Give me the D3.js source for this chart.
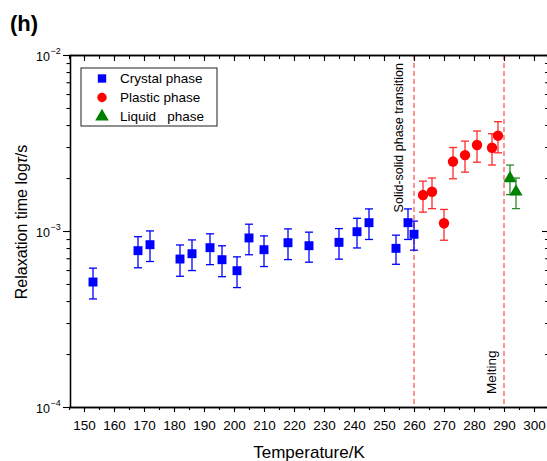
<!DOCTYPE html>
<html>
<head>
<meta charset="utf-8">
<script src="https://cdn.jsdelivr.net/npm/d3@7/dist/d3.min.js"></script>
<style>
  html, body { margin: 0; padding: 0; background: #fff; }
  svg { display: block; font-family: "Liberation Sans", Arial, Helvetica, sans-serif; }
</style>
</head>
<body>
<svg id="chart" width="547" height="461"></svg>
<script>
// Relaxation time vs temperature for the three phases
const crystalT   = [153, 168, 172, 182, 186, 192, 196, 201, 205, 210, 218, 225, 235, 241, 245, 254, 258, 260];
const crystalTau = [5.13e-4, 7.73e-4, 8.36e-4, 6.93e-4, 7.43e-4, 8.04e-4, 6.87e-4, 5.95e-4, 9.13e-4, 7.83e-4,
                    8.58e-4, 8.25e-4, 8.62e-4, 9.91e-4, 1.115e-3, 7.97e-4, 1.115e-3, 9.58e-4];
const crystalErr = [1.02e-4, 1.55e-4, 1.65e-4, 1.4e-4, 1.47e-4, 1.6e-4, 1.37e-4, 1.18e-4, 1.8e-4, 1.55e-4,
                    1.7e-4, 1.6e-4, 1.7e-4, 1.9e-4, 2.2e-4, 1.5e-4, 2.2e-4, 1.8e-4];

const plasticT   = [263, 266, 270, 273, 277, 281, 286, 288];
const plasticTau = [1.60e-3, 1.67e-3, 1.106e-3, 2.48e-3, 2.70e-3, 3.08e-3, 2.97e-3, 3.48e-3];
const plasticErr = [0.32e-3, 0.33e-3, 0.22e-3, 0.50e-3, 0.54e-3, 0.62e-3, 0.60e-3, 0.70e-3];

const liquidT   = [292, 294];
const liquidTau = [1.99e-3, 1.67e-3];
const liquidErr = [0.38e-3, 0.33e-3];

const xMajorTicks = d3.range(150, 301, 10);
const xMinorTicks = d3.range(145, 306, 5);
const yMajorTicks = [1e-4, 1e-3, 1e-2];
const yMinorTicks = [2,3,4,5,6,7,8,9].map(m => m * 1e-4).concat([2,3,4,5,6,7,8,9].map(m => m * 1e-3));
const yTickExponents = ["\u22124", "\u22123", "\u22122"];

const phaseLines = [
  { T: 260, label: "Solid-solid phase transition" },
  { T: 290, label: "Melting" }
];

const legendItems = [
  { name: "Crystal phase", symbol: d3.symbolSquare, color: "#0000ff" },
  { name: "Plastic phase", symbol: d3.symbolCircle, color: "#ff0000" },
  { name: "Liquid   phase", symbol: d3.symbolTriangle, color: "#008000" }
];

const series = [
  { T: crystalT, tau: crystalTau, err: crystalErr, symbol: d3.symbolSquare, size: 80, color: "#0000ff", errColor: "#0000ff" },
  { T: plasticT, tau: plasticTau, err: plasticErr, symbol: d3.symbolCircle, size: 85, color: "#ff0000", errColor: "#ff2a2a" },
  { T: liquidT, tau: liquidTau, err: liquidErr, symbol: d3.symbolTriangle, size: 75, color: "#008000", errColor: "#2e8b2e" }
];

const svg = d3.select("#chart");

const plotLeft = 70, plotTop = 55, plotBottom = 407, plotRight = 549;
const x = d3.scaleLinear().domain([145, 305]).range([69, 549]);
const y = d3.scaleLog().domain([1e-4, 1e-2]).range([plotBottom, plotTop]);

// Panel letter
svg.append("text").attr("x", 10).attr("y", 31)
  .attr("font-size", 22).attr("font-weight", "bold").text("(h)");

// Phase boundary lines
const lines = svg.append("g");
phaseLines.forEach(p => {
  lines.append("line")
    .attr("x1", x(p.T)).attr("x2", x(p.T))
    .attr("y1", plotTop).attr("y2", plotBottom)
    .attr("stroke", "#ff4a4a").attr("stroke-width", 1.2)
    .attr("stroke-dasharray", "5,3");
});
svg.append("text")
  .attr("transform", `translate(${x(260) - 11.5},${63}) rotate(-90)`)
  .attr("text-anchor", "end").attr("font-size", 12.5)
  .text(phaseLines[0].label);
svg.append("text")
  .attr("transform", `translate(${x(290) - 8.5},${394}) rotate(-90)`)
  .attr("text-anchor", "start").attr("font-size", 13.5)
  .text(phaseLines[1].label);

// Axes
const axisStyle = g => {
  g.select(".domain").attr("stroke", "#000").attr("stroke-width", 1.3);
  g.selectAll(".tick line").attr("stroke", "#000").attr("stroke-width", 1.1);
};

const xAxisMinor = svg.append("g").attr("transform", `translate(0,${plotBottom})`)
  .call(d3.axisBottom(x).tickValues(xMinorTicks).tickSize(3).tickSizeOuter(0).tickFormat(""));
axisStyle(xAxisMinor);
const xAxis = svg.append("g").attr("transform", `translate(0,${plotBottom})`)
  .call(d3.axisBottom(x).tickValues(xMajorTicks).tickSize(5).tickSizeOuter(0).tickPadding(8));
axisStyle(xAxis);
xAxis.selectAll(".tick text").attr("font-size", 13.5).attr("fill", "#000")
  .attr("font-family", "'Liberation Sans', Arial, sans-serif");

const xTopMinor = svg.append("g").attr("transform", `translate(0,${plotTop})`)
  .call(d3.axisTop(x).tickValues(xMinorTicks).tickSize(-4).tickSizeOuter(0).tickFormat(""));
axisStyle(xTopMinor);
const xTop = svg.append("g").attr("transform", `translate(0,${plotTop})`)
  .call(d3.axisTop(x).tickValues(xMajorTicks).tickSize(-6).tickSizeOuter(0).tickFormat(""));
axisStyle(xTop);

const yMinor = svg.append("g").attr("transform", `translate(${plotLeft},0)`)
  .call(d3.axisLeft(y).tickValues(yMinorTicks).tickSize(3.5).tickSizeOuter(0).tickFormat(""));
axisStyle(yMinor);
const yAxis = svg.append("g").attr("transform", `translate(${plotLeft},0)`)
  .call(d3.axisLeft(y).tickValues(yMajorTicks).tickSize(7).tickSizeOuter(0).tickFormat(""));
axisStyle(yAxis);

const yRightMinor = svg.append("g").attr("transform", `translate(${plotRight},0)`)
  .call(d3.axisRight(y).tickValues(yMinorTicks).tickSize(-4).tickSizeOuter(0).tickFormat(""));
axisStyle(yRightMinor);
const yRight = svg.append("g").attr("transform", `translate(${plotRight},0)`)
  .call(d3.axisRight(y).tickValues(yMajorTicks).tickSize(-7).tickSizeOuter(0).tickFormat(""));
axisStyle(yRight);

// Power-of-ten tick labels
const yLabels = svg.append("g").attr("font-size", 12.5);
yMajorTicks.forEach((v, i) => {
  const t = yLabels.append("text").attr("x", 36).attr("y", y(v) + 5.5);
  t.append("tspan").text("10");
  t.append("tspan").attr("font-size", 9).attr("dy", -7).attr("dx", 0.5).text(yTickExponents[i]);
});

// Axis titles
svg.append("text").attr("x", 309).attr("y", 458).attr("text-anchor", "middle")
  .attr("font-size", 17).text("Temperature/K");
const yTitle = svg.append("text")
  .attr("transform", `translate(27,222) rotate(-90)`)
  .attr("text-anchor", "middle").attr("font-size", 16);
yTitle.append("tspan").text("Relaxation time log");
yTitle.append("tspan").attr("font-style", "italic").text("\u03c4");
yTitle.append("tspan").text("/s");

// Data: error bars and markers
const capHalf = 4;
series.forEach(s => {
  const rows = s.T.map((t, i) => ({ t, v: s.tau[i], e: s.err[i] }));
  const g = svg.append("g");
  const eb = g.selectAll("g.eb").data(rows).enter().append("g")
    .attr("stroke", s.errColor).attr("stroke-width", 1.3);
  eb.append("line")
    .attr("x1", d => x(d.t)).attr("x2", d => x(d.t))
    .attr("y1", d => y(d.v + d.e)).attr("y2", d => y(d.v - d.e));
  eb.append("line")
    .attr("x1", d => x(d.t) - capHalf).attr("x2", d => x(d.t) + capHalf)
    .attr("y1", d => y(d.v + d.e)).attr("y2", d => y(d.v + d.e));
  eb.append("line")
    .attr("x1", d => x(d.t) - capHalf).attr("x2", d => x(d.t) + capHalf)
    .attr("y1", d => y(d.v - d.e)).attr("y2", d => y(d.v - d.e));
  g.selectAll("path.mk").data(rows).enter().append("path")
    .attr("d", d3.symbol().type(s.symbol).size(s.size))
    .attr("transform", d => `translate(${x(d.t)},${y(d.v)})`)
    .attr("fill", s.color);
});

// Legend
const legend = svg.append("g");
legend.append("rect").attr("x", 81).attr("y", 68).attr("width", 136).attr("height", 58)
  .attr("fill", "#fff").attr("stroke", "#333").attr("stroke-width", 1.1);
legendItems.forEach((it, i) => {
  const cy = 78.5 + i * 19;
  legend.append("path")
    .attr("d", d3.symbol().type(it.symbol).size(it.symbol === d3.symbolTriangle ? 80 : 70))
    .attr("transform", `translate(102,${cy})`).attr("fill", it.color);
  legend.append("text").attr("x", 120).attr("y", cy + 4.5).attr("font-size", 13.5)
    .attr("xml:space", "preserve").style("white-space", "pre").text(it.name);
});
</script>
</body>
</html>
